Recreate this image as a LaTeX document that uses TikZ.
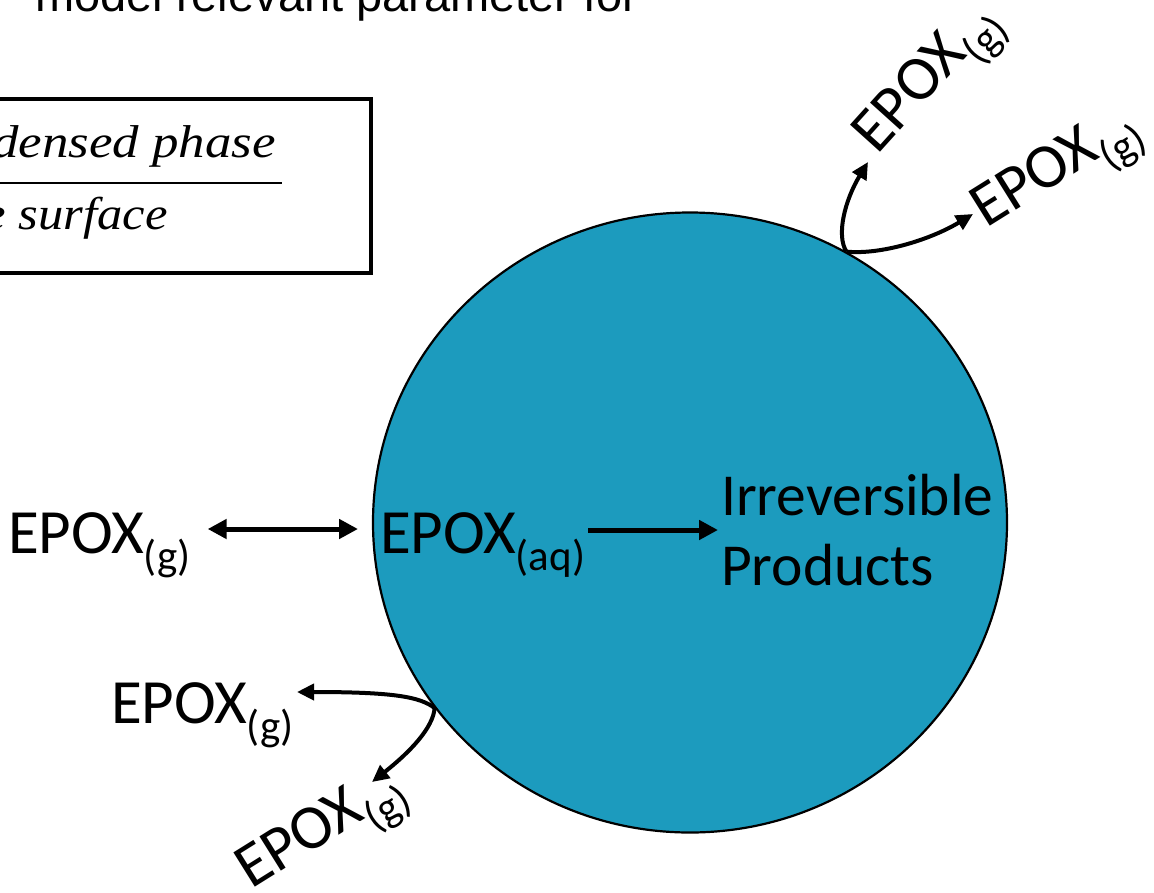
\documentclass[tikz,border=0pt]{standalone}
\usepackage{fontspec}
\setmainfont{Carlito}
\newfontfamily\serifit{Liberation Serif}
\newfontfamily\arialf{Liberation Sans}
\usetikzlibrary{arrows.meta,shapes.geometric}
\definecolor{dropblue}{RGB}{28,155,190}
\newcommand\sbs[1]{\raisebox{-17pt}{\fontsize{43}{43}\selectfont(#1)}}
\begin{document}
\begin{tikzpicture}[x=1pt,y=-1pt,
  lab/.style={inner sep=0pt, font=\fontsize{63}{75}\selectfont},
  eqtext/.style={inner sep=0pt, anchor=base east, font=\serifit\itshape\fontsize{46}{54}\selectfont},
  sarr/.style={line width=5pt, -{Triangle[length=19pt,width=19pt]}},
  darr/.style={line width=5pt, {Triangle[length=19pt,width=19pt]}-{Triangle[length=19pt,width=19pt]}},
  carr/.style={line width=4pt, -{Triangle[length=17pt,width=16pt]}},
]
\useasboundingbox (0,0) rectangle (1154,892);
\clip (0,0) rectangle (1154,892);

% title (cut off at the top)
\node[anchor=base west, inner sep=0pt, font=\arialf\fontsize{47}{56}\selectfont] (title) at (35,11) {model relevant parameter for};

% equation box (cut off at the left)
\draw[line width=4pt] (-20,99) rectangle (371,273);
\draw[line width=2pt] (-20,183) -- (282,183);
\node[eqtext] (num) at (276,157) {\scalebox{1.15}[1]{densed\ phase}};
\node[eqtext] (den) at (168,229) {\scalebox{1.1}[1]{e surface}};

% droplet
\node[ellipse, draw=black, line width=2.2pt, fill=dropblue, minimum width=634pt, minimum height=620pt, inner sep=0pt] (drop) at (690,522.5) {};

% labels
\node[lab, anchor=base west] (gl) at (8,553) {EPOX\sbs{g}};
\node[lab, anchor=base west] (aq) at (380,553) {EPOX\sbs{aq}};
\node[anchor=base west, inner sep=0pt, font=\fontsize{59.5}{70}\selectfont] (irr) at (721,515)
  {\begin{tabular}[t]{@{}l@{}}Irreversible\\Products\end{tabular}};
\node[lab, anchor=base west] (gl2) at (111,723) {EPOX\sbs{g}};
\node[lab, anchor=base west, rotate=32] (gll) at (251,890) {EPOX\sbs{g}};
\node[lab, anchor=base west, rotate=48] (gu1) at (877,156) {EPOX\sbs{g}};
\node[lab, anchor=base west, rotate=32] (gu2) at (986,229) {EPOX\sbs{g}};

% straight arrows
\draw[darr] ([shift={(17pt,24pt)}]gl.base east) -- ([shift={(-22pt,24pt)}]aq.base west);
\draw[sarr] ([shift={(3pt,23pt)}]aq.base east) -- ([shift={(-3pt,-15pt)}]irr.base west);

% curved arrows
\coordinate (t1) at (297,692);
\coordinate (t2) at (372,782);
\coordinate (t3) at (868,162);
\coordinate (t4) at (973,214);
\draw[carr] (drop.216) .. controls (420,697) and (395,692) .. (t1);
\draw[carr] (drop.216) .. controls (433,728) and (410,752) .. (t2);
\draw[carr] (drop.60) .. controls (836,235) and (845,200) .. (t3);
\draw[carr] (drop.60) .. controls (880,255) and (930,240) .. (t4);
\end{tikzpicture}
\end{document}
